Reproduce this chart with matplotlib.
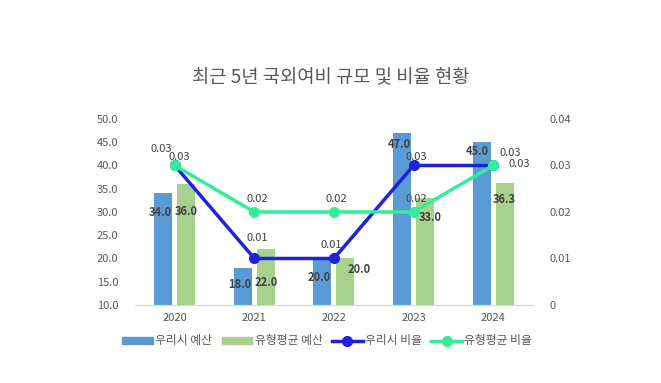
import numpy as np
import matplotlib.pyplot as plt
from matplotlib.lines import Line2D
from matplotlib.patches import Patch

plt.rcParams['font.family'] = ['Noto Sans CJK KR', 'DejaVu Sans']

# data
years = ["2020", "2021", "2022", "2023", "2024"]
city_budget = [34.0, 18.0, 20.0, 47.0, 45.0]
avg_budget = [36.0, 22.0, 20.0, 33.0, 36.3]
city_ratio = [0.03, 0.01, 0.01, 0.03, 0.03]
avg_ratio = [0.03, 0.02, 0.02, 0.02, 0.03]

# label offsets (points) - placed by hand like the original
city_bar_off = [(-2, -14), (-2, -12), (-2, -14), (-2, -8), (-3, -7)]
avg_bar_off = [(0, -20), (0, -24), (10, -8), (4, -14), (0, -12)]
city_line_off = [(-10, 12), (2, 15), (-2, 10), (2, 6), (12, 9)]
avg_line_off = [(3, 6), (2, 9), (2, 9), (2, 9.5), (19, 1)]

c_bar1 = "#5B9BD5"
c_bar2 = "#A9D18E"
c_line1 = "#1E22DE"
c_line2 = "#33EE98"
txt = "#404040"

fig = plt.figure(figsize=(6.61, 3.83), dpi=100)
ax = fig.add_axes([0.2042, 0.2037, 0.602, 0.4856])
ax2 = ax.twinx()

x = np.arange(len(years))
w = 0.226
off = 0.145

ax.bar(x - off, np.array(city_budget) - 10, w, bottom=10, color=c_bar1, zorder=2)
ax.bar(x + off, np.array(avg_budget) - 10, w, bottom=10, color=c_bar2, zorder=2)
ax.set_ylim(10, 50)
ax.set_xlim(-0.5, len(years) - 0.5)
ax.set_yticks(np.arange(10, 50.1, 5))
ax.set_yticklabels([f"{v:.1f}" for v in np.arange(10, 50.1, 5)])
ax.set_xticks(x)
ax.set_xticklabels(years)

for i in range(len(years)):
    ax.annotate(f"{city_budget[i]:.1f}", (x[i] - off, city_budget[i]),
                xytext=city_bar_off[i], textcoords="offset points",
                ha="center", va="center", fontsize=8, fontweight="bold", color=txt, zorder=5)
    ax.annotate(f"{avg_budget[i]:.1f}", (x[i] + off, avg_budget[i]),
                xytext=avg_bar_off[i], textcoords="offset points",
                ha="center", va="center", fontsize=8, fontweight="bold", color=txt, zorder=5)

ax2.plot(x, city_ratio, color=c_line1, lw=2.5, marker="o", ms=7, zorder=3)
ax2.plot(x, avg_ratio, color=c_line2, lw=2.5, marker="o", ms=7, zorder=3)
ax2.set_ylim(0, 0.04)
ax2.set_yticks([0, 0.01, 0.02, 0.03, 0.04])
ax2.set_yticklabels(["0", "0.01", "0.02", "0.03", "0.04"])

for i in range(len(years)):
    ax2.annotate(f"{city_ratio[i]:.2f}", (x[i], city_ratio[i]),
                 xytext=city_line_off[i], textcoords="offset points",
                 ha="center", va="center", fontsize=8, color=txt)
    ax2.annotate(f"{avg_ratio[i]:.2f}", (x[i], avg_ratio[i]),
                 xytext=avg_line_off[i], textcoords="offset points",
                 ha="center", va="center", fontsize=8, color=txt)

for a in (ax, ax2):
    for s in ["top", "left", "right"]:
        a.spines[s].set_visible(False)
    a.spines["bottom"].set_color("#D9D9D9")
    a.tick_params(length=0, labelsize=8, labelcolor="#595959")
ax.tick_params(axis="y", pad=12)
ax2.tick_params(axis="y", pad=12)
ax.tick_params(axis="x", pad=6)

fig.text(0.5, 0.797, "최근 5년 국외여비 규모 및 비율 현황", ha="center", va="center",
         fontsize=13.5, color="#595959")

handles = [
    Patch(color=c_bar1),
    Patch(color=c_bar2),
    Line2D([], [], color=c_line1, lw=2.5, marker="o", ms=7),
    Line2D([], [], color=c_line2, lw=2.5, marker="o", ms=7),
]
labels = ["우리시 예산", "유형평균 예산", "우리시 비율", "유형평균 비율"]
fig.legend(handles, labels, loc="center", bbox_to_anchor=(0.495, 0.11), ncol=4,
           frameon=False, fontsize=8.5, handlelength=2.6, handleheight=0.5,
           columnspacing=0.8, handletextpad=0.2, labelcolor="#595959")

fig.savefig("out.png", dpi=100, facecolor="white")
